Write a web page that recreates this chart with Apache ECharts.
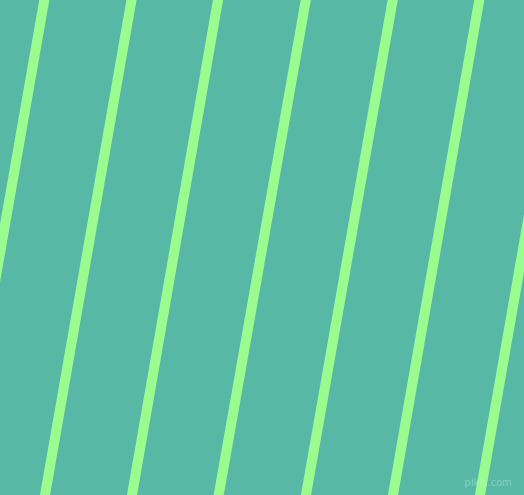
<!DOCTYPE html>
<html>
<head>
<meta charset="utf-8">
<script src="https://cdn.jsdelivr.net/npm/echarts@6/dist/echarts.min.js"></script>
<style>html,body{margin:0;padding:0;background:#57b9a5}#c{width:524px;height:495px}</style>
</head>
<body>
<div id="c"></div>
<script>
// stripe positions: x where each stripe meets the top edge (y=0) and the bottom edge (y=495)
const stripeTopX = [44.3, 131.5, 218, 305.8, 392.7, 479.3, 566.5];
const stripeBottomX = [-42.3, 45, 132, 218.7, 306, 393, 480];
const edgeY = [0, 495];

const chart = echarts.init(document.getElementById('c'), null, {renderer: 'canvas'});
const series = stripeTopX.map((t, i) => ({
  type: 'line',
  data: [[t, edgeY[0]], [stripeBottomX[i], edgeY[1]]],
  symbol: 'none',
  silent: true,
  clip: true,
  animation: false,
  lineStyle: {color: '#9afc8f', width: 10, cap: 'square'}
}));
chart.setOption({
  backgroundColor: '#57b9a5',
  animation: false,
  grid: {left: 0, right: 0, top: 0, bottom: 0},
  xAxis: {type: 'value', min: 0, max: 524, show: false},
  yAxis: {type: 'value', min: 0, max: 495, inverse: true, show: false},
  series: series,
  graphic: [{
    type: 'text', right: 12, bottom: 7, z: 100,
    style: {text: 'pikis.com', fill: 'rgba(190,235,225,0.45)', font: '10px "DejaVu Sans"'}
  }]
});
</script>
</body>
</html>
